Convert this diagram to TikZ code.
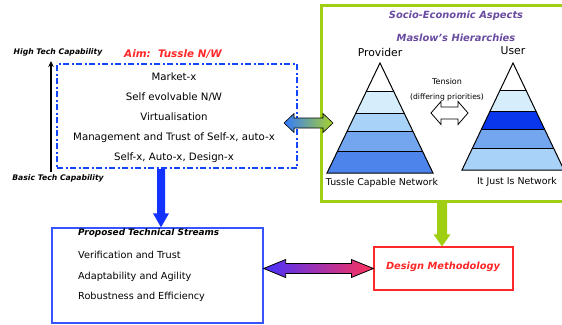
\documentclass[tikz,border=0pt]{standalone}
\usepackage{fontspec}
\setmainfont{DejaVu Sans}
\usetikzlibrary{calc,arrows.meta}
\definecolor{lime}{RGB}{160,206,18}
\definecolor{dblue}{RGB}{20,70,255}
\definecolor{pblue}{RGB}{55,85,255}
\definecolor{arrblue}{RGB}{20,50,255}
\definecolor{redt}{RGB}{255,40,40}
\definecolor{purp}{RGB}{105,75,160}
\definecolor{bA}{RGB}{214,238,252}
\definecolor{bB}{RGB}{168,210,247}
\definecolor{bC}{RGB}{116,166,240}
\definecolor{bD}{RGB}{76,132,236}
\definecolor{bE}{RGB}{10,55,235}
\tikzset{
  txt/.style={inner sep=0pt, font=\fontsize{10.2}{12}\selectfont},
  ltxt/.style={inner sep=0pt, anchor=west, font=\fontsize{9.7}{12}\selectfont},
  bitxt/.style={inner sep=0pt, font=\fontsize{#1}{12}\selectfont\bfseries\itshape},
  band/.style={draw=black, line width=0.8pt},
}
\begin{document}
\begin{tikzpicture}[x=1pt,y=-1pt]
\clip (0,0) rectangle (562,324);
\fill[white] (0,0) rectangle (562,324);

% ---------- green socio-economic box ----------
\node[draw=lime, line width=3pt, minimum width=244pt, minimum height=196pt, inner sep=0pt] (soc) at (443,103.5) {};
\node[bitxt=9.9, text=purp] (socT) at (456,16) {Socio-Economic Aspects};
\node[bitxt=9.9, text=purp] (mas) at (456,38) {Maslow's Hierarchies};
\node[txt, font=\fontsize{10.8}{12}\selectfont] (prov) at (380,52) {Provider};
\node[txt, font=\fontsize{10.8}{12}\selectfont] (user) at (513,51) {User};

% provider pyramid
\coordinate (pA) at (380,63);
\coordinate (pL) at (327,173);
\coordinate (pR) at (433,173);
\begin{scope}
  \clip (pA) -- (pL) -- (pR) -- cycle;
  \fill[white] (320,60) rectangle (440,91);
  \fill[bA] (320,91) rectangle (440,113);
  \fill[bB] (320,113) rectangle (440,131);
  \fill[bC] (320,131) rectangle (440,151);
  \fill[bD] (320,151) rectangle (440,175);
  \foreach \yy in {91,113,131,151} \draw[band] (320,\yy) -- (440,\yy);
\end{scope}
\draw[line width=1pt, line join=miter] (pA) -- (pL) -- (pR) -- cycle;
\node[txt, font=\fontsize{9.4}{12}\selectfont] (tcn) at (382,183) {Tussle Capable Network};

% user pyramid
\coordinate (uA) at (513,63);
\coordinate (uL) at (462,170);
\coordinate (uR) at (564,170);
\begin{scope}
  \clip (uA) -- (uL) -- (uR) -- cycle;
  \fill[white] (455,60) rectangle (570,90);
  \fill[bA] (455,90) rectangle (570,111);
  \fill[bE] (455,111) rectangle (570,129);
  \fill[bC] (455,129) rectangle (570,148);
  \fill[bB] (455,148) rectangle (570,172);
  \foreach \yy in {90,111,129,148} \draw[band] (455,\yy) -- (570,\yy);
\end{scope}
\draw[line width=1pt, line join=miter] (uA) -- (uL) -- (uR) -- cycle;
\node[txt, font=\fontsize{9.4}{12}\selectfont] (ijn) at (517,182) {It Just Is Network};

% tension
\node[txt, font=\fontsize{8}{10}\selectfont] (ten) at (447,82) {Tension};
\node[txt, font=\fontsize{7.6}{10}\selectfont] (dif) at (447,97) {(differing priorities)};
\coordinate (tL) at (431,113);
\coordinate (tR) at (468,113);
\draw[fill=white, line width=0.8pt, line join=miter]
  (tL) -- ($(tL)+(10,-11.5)$) -- ($(tL)+(10,-6)$) -- ($(tR)+(-10,-6)$) -- ($(tR)+(-10,-11.5)$)
  -- (tR) -- ($(tR)+(-10,11.5)$) -- ($(tR)+(-10,6)$) -- ($(tL)+(10,6)$) -- ($(tL)+(10,11.5)$) -- cycle;

% ---------- left: tussle box ----------
\node[bitxt=7.7] (high) at (58,52) {High Tech Capability};
\node[bitxt=7.7] (basic) at (58,178) {Basic Tech Capability};
\coordinate (vb) at (51,172);
\coordinate (vt) at (51,61);
\draw[line width=1.8pt, -{Stealth[length=6pt,width=5.5pt]}] (vb) -- (vt);
\node[bitxt=10.4, text=redt] (aim) at (173,54) {Aim:\ \ Tussle N/W};
\node[draw=dblue, line width=2pt, dash pattern=on 6pt off 2.5pt on 2pt off 2.5pt,
      minimum width=240pt, minimum height=104pt, inner sep=0pt] (tbox) at (177,116) {};
\node[txt] (m1) at (174,77) {Market-x};
\node[txt] (m2) at (174,97) {Self evolvable N/W};
\node[txt] (m3) at (174,117) {Virtualisation};
\node[txt] (m4) at (174,138) {Management and Trust of Self-x, auto-x};
\node[txt] (m5) at (174,158) {Self-x, Auto-x, Design-x};

% ---------- proposed technical streams ----------
\node[draw=pblue, line width=1.3pt, minimum width=211pt, minimum height=95pt, inner sep=0pt] (pts) at (157.5,275.5) {};
\node[bitxt=8.9, anchor=west] (ptsT) at (78,233) {Proposed Technical Streams};
\node[ltxt] (s1) at (78,255) {Verification and Trust};
\node[ltxt] (s2) at (78,277) {Adaptability and Agility};
\node[ltxt] (s3) at (78,297) {Robustness and Efficiency};

% ---------- design methodology ----------
\node[draw=redt, line width=1.2pt, minimum width=139pt, minimum height=43pt, inner sep=0pt] (dm) at (443.5,268.5) {};
\node[bitxt=9.85, text=redt] (dmT) at (443,267) {Design Methodology};

% ---------- block arrows ----------
% blue down arrow
\coordinate (bd0) at (tbox.south -| 161,0);
\coordinate (bd1) at (pts.north -| 161,0);
\fill[arrblue] ($(bd0)+(-4,0)$) -- ($(bd1)+(-4,-14)$) -- ($(bd1)+(-8,-14)$) -- (bd1)
  -- ($(bd1)+(8,-14)$) -- ($(bd1)+(4,-14)$) -- ($(bd0)+(4,0)$) -- cycle;

% green down arrow
\coordinate (gd0) at (soc.south -| 442,0);
\coordinate (gd1) at (dm.north -| 442,0);
\fill[lime] ($(gd0)+(-5,0)$) -- ($(gd1)+(-5,-12)$) -- ($(gd1)+(-8.5,-12)$) -- (gd1)
  -- ($(gd1)+(8.5,-12)$) -- ($(gd1)+(5,-12)$) -- ($(gd0)+(5,0)$) -- cycle;

% blue-green double arrow
\coordinate (bgL) at (284,123);
\coordinate (bgR) at (333,123);
\shadedraw[left color=blue!65!cyan!80!white, right color=lime!90!white, draw=black, line width=0.6pt, line join=miter]
  (bgL) -- ($(bgL)+(10,-9.5)$) -- ($(bgL)+(10,-5)$) -- ($(bgR)+(-10,-5)$) -- ($(bgR)+(-10,-9.5)$)
  -- (bgR) -- ($(bgR)+(-10,9.5)$) -- ($(bgR)+(-10,5)$) -- ($(bgL)+(10,5)$) -- ($(bgL)+(10,9.5)$) -- cycle;

% purple-red double arrow
\coordinate (prL) at (pts.east |- dm.west);
\coordinate (prR) at (dm.west);
\shadedraw[left color={rgb,255:red,70;green,50;blue,255}, right color={rgb,255:red,255;green,50;blue,90}, draw=black, line width=0.8pt, line join=miter]
  (prL) -- ($(prL)+(22,-9)$) -- ($(prL)+(22,-5)$) -- ($(prR)+(-22,-5)$) -- ($(prR)+(-22,-9)$)
  -- (prR) -- ($(prR)+(-22,9)$) -- ($(prR)+(-22,5)$) -- ($(prL)+(22,5)$) -- ($(prL)+(22,9)$) -- cycle;
\end{tikzpicture}
\end{document}
